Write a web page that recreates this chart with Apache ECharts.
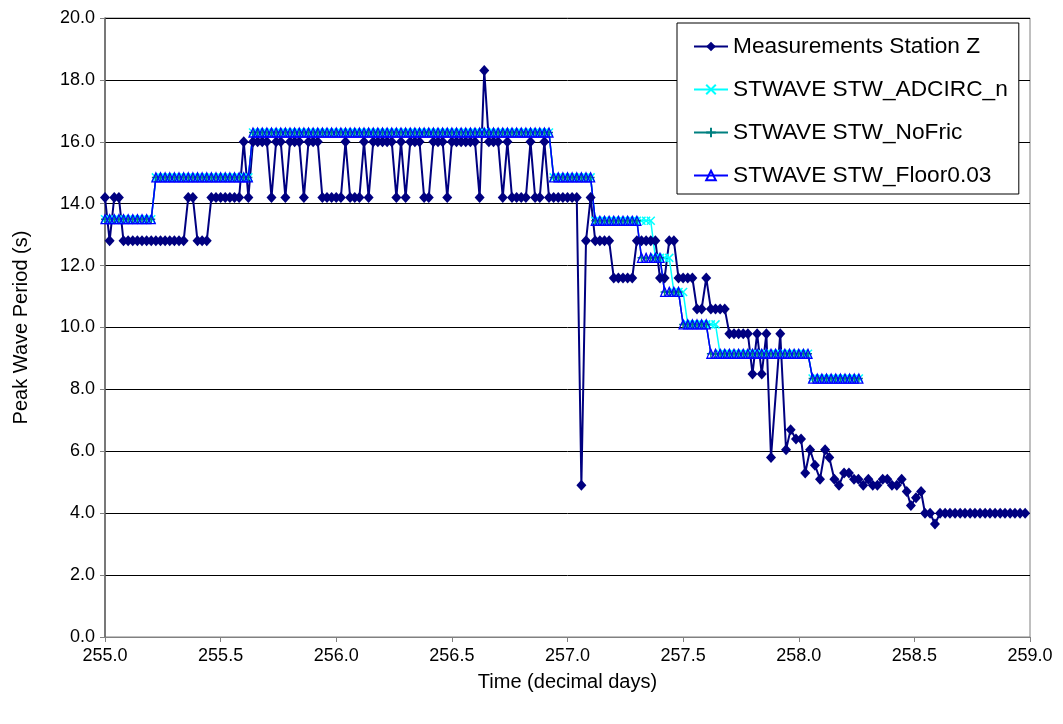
<!DOCTYPE html>
<html>
<head>
<meta charset="utf-8">
<script src="https://cdn.jsdelivr.net/npm/echarts@6/dist/echarts.min.js"></script>
<style>
html,body{margin:0;padding:0;background:#fff;}
#chart{width:1063px;height:724px;}
</style>
</head>
<body>
<div id="chart"></div>
<script>
// ---- Measurements Station Z ----
const measTime = [
255.00,255.02,255.04,255.06,255.08,255.10,255.12,255.14,255.16,255.18,
255.20,255.22,255.24,255.26,255.28,255.30,255.32,255.34,255.36,255.38,
255.40,255.42,255.44,255.46,255.48,255.50,255.52,255.54,255.56,255.58,
255.60,255.62,255.64,255.66,255.68,255.70,255.72,255.74,255.76,255.78,
255.80,255.82,255.84,255.86,255.88,255.90,255.92,255.94,255.96,255.98,
256.00,256.02,256.04,256.06,256.08,256.10,256.12,256.14,256.16,256.18,
256.20,256.22,256.24,256.26,256.28,256.30,256.32,256.34,256.36,256.38,
256.40,256.42,256.44,256.46,256.48,256.50,256.52,256.54,256.56,256.58,
256.60,256.62,256.64,256.66,256.68,256.70,256.72,256.74,256.76,256.78,
256.80,256.82,256.84,256.86,256.88,256.90,256.92,256.94,256.96,256.98,
257.00,257.02,257.04,257.06,257.08,257.10,257.12,257.14,257.16,257.18,
257.20,257.22,257.24,257.26,257.28,257.30,257.32,257.34,257.36,257.38,
257.40,257.42,257.44,257.46,257.48,257.50,257.52,257.54,257.56,257.58,
257.60,257.62,257.64,257.66,257.68,257.70,257.72,257.74,
257.76,257.78,257.80,257.82,257.84,257.86,257.88,257.92,257.945,257.965,
257.988,258.010,258.028,258.049,258.070,258.092,258.114,258.132,258.154,258.174,
258.196,258.217,258.239,258.258,258.279,258.301,258.320,258.340,258.363,258.383,
258.403,258.424,258.445,258.467,258.485,258.507,258.529,258.546,258.568,258.589,
258.611,258.633,258.654,258.676,258.698,258.719,258.741,258.762,258.784,258.806,
258.827,258.849,258.871,258.892,258.914,258.935,258.957,258.979
];
const measPeriod = [
14.2,12.8,14.2,14.2,12.8,12.8,12.8,12.8,12.8,12.8,
12.8,12.8,12.8,12.8,12.8,12.8,12.8,12.8,14.2,14.2,
12.8,12.8,12.8,14.2,14.2,14.2,14.2,14.2,14.2,14.2,
16.0,14.2,16.0,16.0,16.0,16.0,14.2,16.0,16.0,14.2,
16.0,16.0,16.0,14.2,16.0,16.0,16.0,14.2,14.2,14.2,
14.2,14.2,16.0,14.2,14.2,14.2,16.0,14.2,16.0,16.0,
16.0,16.0,16.0,14.2,16.0,14.2,16.0,16.0,16.0,14.2,
14.2,16.0,16.0,16.0,14.2,16.0,16.0,16.0,16.0,16.0,
16.0,14.2,18.3,16.0,16.0,16.0,14.2,16.0,14.2,14.2,
14.2,14.2,16.0,14.2,14.2,16.0,14.2,14.2,14.2,14.2,
14.2,14.2,14.2,4.9,12.8,14.2,12.8,12.8,12.8,12.8,
11.6,11.6,11.6,11.6,11.6,12.8,12.8,12.8,12.8,12.8,
11.6,11.6,12.8,12.8,11.6,11.6,11.6,11.6,10.6,10.6,
11.6,10.6,10.6,10.6,10.6,9.8,9.8,9.8,
9.8,9.8,8.5,9.8,8.5,9.8,5.8,9.8,6.05,6.7,
6.4,6.4,5.3,6.05,5.55,5.1,6.05,5.8,5.1,4.9,
5.3,5.3,5.1,5.1,4.9,5.1,4.9,4.9,5.1,5.1,
4.9,4.9,5.1,4.7,4.25,4.5,4.7,4.0,4.0,3.65,
4.0,4.0,4.0,4.0,4.0,4.0,4.0,4.0,4.0,4.0,
4.0,4.0,4.0,4.0,4.0,4.0,4.0,4.0
];

// ---- STWAVE model runs (shared output times) ----
const modelTime = [
255.00,255.02,255.04,255.06,255.08,255.10,255.12,255.14,255.16,255.18,
255.20,255.22,255.24,255.26,255.28,255.30,255.32,255.34,255.36,255.38,
255.40,255.42,255.44,255.46,255.48,255.50,255.52,255.54,255.56,255.58,
255.60,255.62,255.64,255.66,255.68,255.70,255.72,255.74,255.76,255.78,
255.80,255.82,255.84,255.86,255.88,255.90,255.92,255.94,255.96,255.98,
256.00,256.02,256.04,256.06,256.08,256.10,256.12,256.14,256.16,256.18,
256.20,256.22,256.24,256.26,256.28,256.30,256.32,256.34,256.36,256.38,
256.40,256.42,256.44,256.46,256.48,256.50,256.52,256.54,256.56,256.58,
256.60,256.62,256.64,256.66,256.68,256.70,256.72,256.74,256.76,256.78,
256.80,256.82,256.84,256.86,256.88,256.90,256.92,256.94,256.96,256.98,
257.00,257.02,257.04,257.06,257.08,257.10,257.12,257.14,257.16,257.18,
257.20,257.22,257.24,257.26,257.28,257.30,257.32,257.34,257.36,257.38,
257.40,257.42,257.44,257.46,257.48,257.50,257.52,257.54,257.56,257.58,
257.60,257.62,257.64,257.66,257.68,257.70,257.72,257.74,257.76,257.78,
257.80,257.82,257.84,257.86,257.88,257.90,257.92,257.94,257.96,257.98,
258.00,258.02,258.04,258.06,258.08,258.10,258.12,258.14,258.16,258.18,
258.20,258.22,258.24,258.26
];
const adcircN = [
13.5,13.5,13.5,13.5,13.5,13.5,13.5,13.5,13.5,13.5,
13.5,14.85,14.85,14.85,14.85,14.85,14.85,14.85,14.85,14.85,
14.85,14.85,14.85,14.85,14.85,14.85,14.85,14.85,14.85,14.85,
14.85,14.85,16.3,16.3,16.3,16.3,16.3,16.3,16.3,16.3,
16.3,16.3,16.3,16.3,16.3,16.3,16.3,16.3,16.3,16.3,
16.3,16.3,16.3,16.3,16.3,16.3,16.3,16.3,16.3,16.3,
16.3,16.3,16.3,16.3,16.3,16.3,16.3,16.3,16.3,16.3,
16.3,16.3,16.3,16.3,16.3,16.3,16.3,16.3,16.3,16.3,
16.3,16.3,16.3,16.3,16.3,16.3,16.3,16.3,16.3,16.3,
16.3,16.3,16.3,16.3,16.3,16.3,16.3,14.85,14.85,14.85,
14.85,14.85,14.85,14.85,14.85,14.85,13.45,13.45,13.45,13.45,
13.45,13.45,13.45,13.45,13.45,13.45,13.45,13.45,13.45,12.25,
12.25,12.25,12.25,11.15,11.15,11.15,10.1,10.1,10.1,10.1,
10.1,10.1,10.1,9.15,9.15,9.15,9.15,9.15,9.15,9.15,
9.15,9.15,9.15,9.15,9.15,9.15,9.15,9.15,9.15,9.15,
9.15,9.15,9.15,8.35,8.35,8.35,8.35,8.35,8.35,8.35,
8.35,8.35,8.35,8.35
];
const noFric = [
13.5,13.5,13.5,13.5,13.5,13.5,13.5,13.5,13.5,13.5,
13.5,14.85,14.85,14.85,14.85,14.85,14.85,14.85,14.85,14.85,
14.85,14.85,14.85,14.85,14.85,14.85,14.85,14.85,14.85,14.85,
14.85,14.85,16.3,16.3,16.3,16.3,16.3,16.3,16.3,16.3,
16.3,16.3,16.3,16.3,16.3,16.3,16.3,16.3,16.3,16.3,
16.3,16.3,16.3,16.3,16.3,16.3,16.3,16.3,16.3,16.3,
16.3,16.3,16.3,16.3,16.3,16.3,16.3,16.3,16.3,16.3,
16.3,16.3,16.3,16.3,16.3,16.3,16.3,16.3,16.3,16.3,
16.3,16.3,16.3,16.3,16.3,16.3,16.3,16.3,16.3,16.3,
16.3,16.3,16.3,16.3,16.3,16.3,16.3,14.85,14.85,14.85,
14.85,14.85,14.85,14.85,14.85,14.85,13.45,13.45,13.45,13.45,
13.45,13.45,13.45,13.45,13.45,13.45,12.25,12.25,12.25,12.25,
12.25,11.15,11.15,11.15,11.15,10.1,10.1,10.1,10.1,10.1,
10.1,9.15,9.15,9.15,9.15,9.15,9.15,9.15,9.15,9.15,
9.15,9.15,9.15,9.15,9.15,9.15,9.15,9.15,9.15,9.15,
9.15,9.15,9.15,8.35,8.35,8.35,8.35,8.35,8.35,8.35,
8.35,8.35,8.35,8.35
];
const floor003 = [
13.5,13.5,13.5,13.5,13.5,13.5,13.5,13.5,13.5,13.5,
13.5,14.85,14.85,14.85,14.85,14.85,14.85,14.85,14.85,14.85,
14.85,14.85,14.85,14.85,14.85,14.85,14.85,14.85,14.85,14.85,
14.85,14.85,16.3,16.3,16.3,16.3,16.3,16.3,16.3,16.3,
16.3,16.3,16.3,16.3,16.3,16.3,16.3,16.3,16.3,16.3,
16.3,16.3,16.3,16.3,16.3,16.3,16.3,16.3,16.3,16.3,
16.3,16.3,16.3,16.3,16.3,16.3,16.3,16.3,16.3,16.3,
16.3,16.3,16.3,16.3,16.3,16.3,16.3,16.3,16.3,16.3,
16.3,16.3,16.3,16.3,16.3,16.3,16.3,16.3,16.3,16.3,
16.3,16.3,16.3,16.3,16.3,16.3,16.3,14.85,14.85,14.85,
14.85,14.85,14.85,14.85,14.85,14.85,13.45,13.45,13.45,13.45,
13.45,13.45,13.45,13.45,13.45,13.45,12.25,12.25,12.25,12.25,
12.25,11.15,11.15,11.15,11.15,10.1,10.1,10.1,10.1,10.1,
10.1,9.15,9.15,9.15,9.15,9.15,9.15,9.15,9.15,9.15,
9.15,9.15,9.15,9.15,9.15,9.15,9.15,9.15,9.15,9.15,
9.15,9.15,9.15,8.35,8.35,8.35,8.35,8.35,8.35,8.35,
8.35,8.35,8.35,8.35
];

const seriesNames = ['Measurements Station Z','STWAVE STW_ADCIRC_n','STWAVE STW_NoFric','STWAVE STW_Floor0.03'];
const xTitle = 'Time (decimal days)';
const yTitle = 'Peak Wave Period (s)';

function pairs(t, v){ return t.map((x,i)=>[x, v[i]]); }

const FONT = '"Liberation Sans", Arial, sans-serif';
const chart = echarts.init(document.getElementById('chart'), null, {renderer:'canvas'});
chart.setOption({
  animation:false,
  backgroundColor:'#ffffff',
  grid:{left:105, right:33, top:18, bottom:87, show:true, borderColor:'#808080', borderWidth:1, backgroundColor:'#ffffff'},
  legend:{
    orient:'vertical', left:677, top:23,
    data:seriesNames,
    backgroundColor:'#ffffff', borderColor:'#000000', borderWidth:1,
    padding:[12,11,7,16], itemGap:20, itemWidth:34, itemHeight:12,
    textStyle:{fontSize:22.7, color:'#000', fontFamily:FONT}
  },
  xAxis:{
    type:'value', min:255, max:259, interval:0.5,
    name:xTitle, nameLocation:'middle', nameGap:35,
    nameTextStyle:{fontSize:20, color:'#000', fontFamily:FONT},
    axisLine:{show:true, lineStyle:{color:'#808080', width:1}},
    axisTick:{show:true, length:5, lineStyle:{color:'#808080'}},
    axisLabel:{fontSize:18, color:'#000', fontFamily:FONT, margin:10, formatter:v=>v.toFixed(1)},
    splitLine:{show:false}
  },
  yAxis:{
    type:'value', min:0, max:20, interval:2,
    name:yTitle, nameLocation:'middle', nameGap:74, nameRotate:90,
    nameTextStyle:{fontSize:20, color:'#000', fontFamily:FONT},
    axisLine:{show:true, lineStyle:{color:'#606060', width:1.5}},
    axisTick:{show:true, length:5, lineStyle:{color:'#808080'}},
    axisLabel:{fontSize:18, color:'#000', fontFamily:FONT, margin:10, formatter:v=>v.toFixed(1)},
    splitLine:{show:true, lineStyle:{color:'#000000', width:1}}
  },
  series:[
    {
      name:seriesNames[0], type:'line', data:pairs(measTime, measPeriod),
      symbol:'diamond', symbolSize:[10,11],
      itemStyle:{color:'#000080'}, lineStyle:{color:'#000080', width:2}
    },
    {
      name:seriesNames[1], type:'line', data:pairs(modelTime, adcircN),
      symbol:'path://M0,0L10,10M10,0L0,10', symbolSize:8,
      itemStyle:{color:'#00ffff', borderColor:'#00ffff', borderWidth:1.5},
      lineStyle:{color:'#00ffff', width:1.5}
    },
    {
      name:seriesNames[2], type:'line', data:pairs(modelTime, noFric),
      symbol:'path://M5,0L5,10M0,5L10,5', symbolSize:8,
      itemStyle:{color:'#008080', borderColor:'#008080', borderWidth:1.5},
      lineStyle:{color:'#008080', width:1.5}
    },
    {
      name:seriesNames[3], type:'line', data:pairs(modelTime, floor003),
      symbol:'triangle', symbolSize:[8,9],
      itemStyle:{color:'rgba(255,255,255,0)', borderColor:'#0000ff', borderWidth:1.3},
      lineStyle:{color:'#0000ff', width:1.5}
    }
  ]
});
</script>
</body>
</html>
